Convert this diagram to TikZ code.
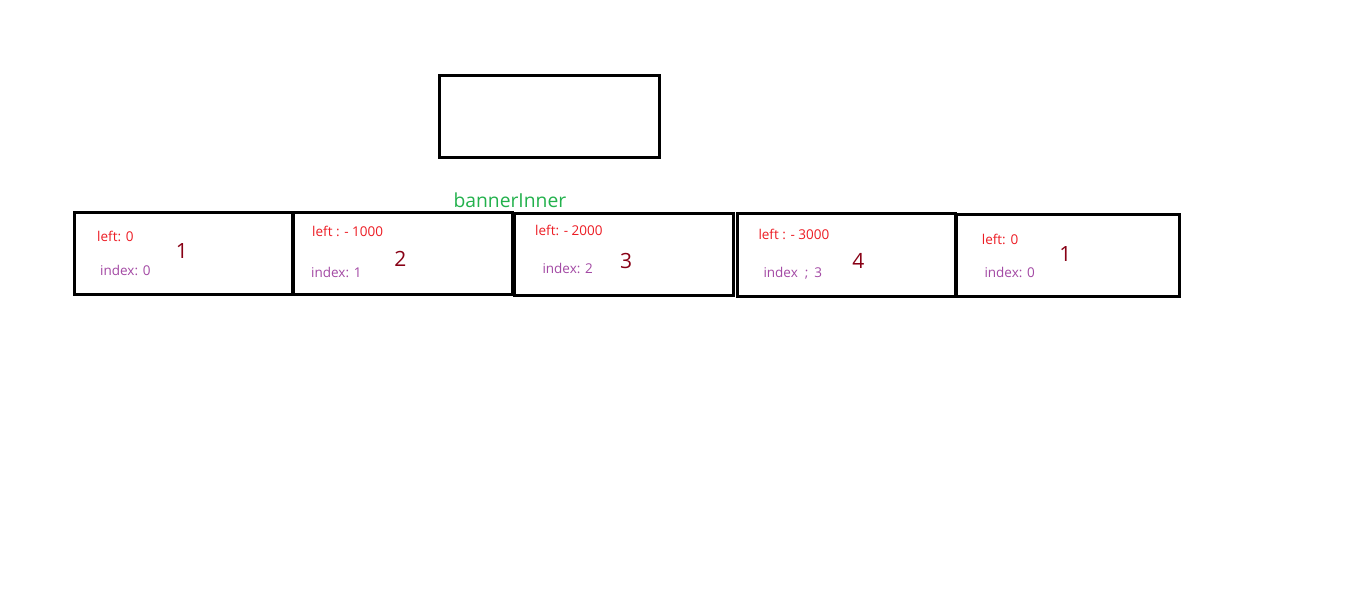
\documentclass[tikz,border=0pt]{standalone}
\usepackage{fontspec}
\setmainfont{Open Sans}
\definecolor{lblred}{HTML}{ED1C24}
\definecolor{lblpurple}{HTML}{A349A4}
\definecolor{numred}{HTML}{880015}
\definecolor{bgreen}{HTML}{22B14C}
\tikzset{
  bx/.style={draw=black, line width=3pt, inner sep=0pt, outer sep=0pt},
  lefttxt/.style={anchor=base west, inner sep=0pt, text=lblred, font=\fontsize{13.5}{15}\selectfont},
  idxtxt/.style={anchor=base west, inner sep=0pt, text=lblpurple, font=\fontsize{13.5}{15}\selectfont},
  numtxt/.style={anchor=base, inner sep=0pt, text=numred, font=\fontsize{21}{23}\selectfont},
  greentxt/.style={anchor=base west, inner sep=0pt, text=bgreen, font=\fontsize{19.3}{21}\selectfont}
}
\begin{document}
\begin{tikzpicture}[x=1pt,y=-1pt]
\useasboundingbox[fill=white] (0,0) rectangle (1360,591);
% top box
\node[bx, minimum width=220pt, minimum height=82.5pt] (top) at (549.5,116.75) {};
\node[greentxt] (lbl) at (453.3,207.7) {bannerInner};
% row of boxes
\node[bx, minimum width=218pt, minimum height=82pt] (b1) at (183,253) {};
\node[bx, minimum width=219pt, minimum height=81.7pt] (b2) at (403,253.8) {};
\node[bx, minimum width=218.7pt, minimum height=82.2pt] (b3) at (624.3,254.4) {};
\node[bx, minimum width=218pt, minimum height=82.5pt] (b4) at (846,255.2) {};
\node[bx, minimum width=222.5pt, minimum height=82.5pt] (b5) at (1067.75,255.7) {};
% box 1
\node[lefttxt] (l1) at (97,241) {left: 0};
\node[idxtxt] (i1) at (100,275) {index: 0};
\node[numtxt] (n1) at (182,258.3) {1};
% box 2
\node[lefttxt] (l2) at (312,236.7) {left : - 1000};
\node[idxtxt] (i2) at (311,277.3) {index: 1};
\node[numtxt] (n2) at (400.3,266) {2};
% box 3
\node[lefttxt] (l3) at (535,235) {left: - 2000};
\node[idxtxt] (i3) at (542.3,273.3) {index: 2};
\node[numtxt] (n3) at (626.2,268.3) {3};
% box 4
\node[lefttxt] (l4) at (758.3,239.3) {left : - 3000};
\node[idxtxt] (i4) at (763.3,277.7) {index\hspace{7pt};\hspace{6pt}3};
\node[numtxt] (n4) at (858.3,268.3) {4};
% box 5
\node[lefttxt] (l5) at (981.7,244) {left: 0};
\node[idxtxt] (i5) at (984.3,277.7) {index: 0};
\node[numtxt] (n5) at (1065.3,261.7) {1};
\end{tikzpicture}
\end{document}
